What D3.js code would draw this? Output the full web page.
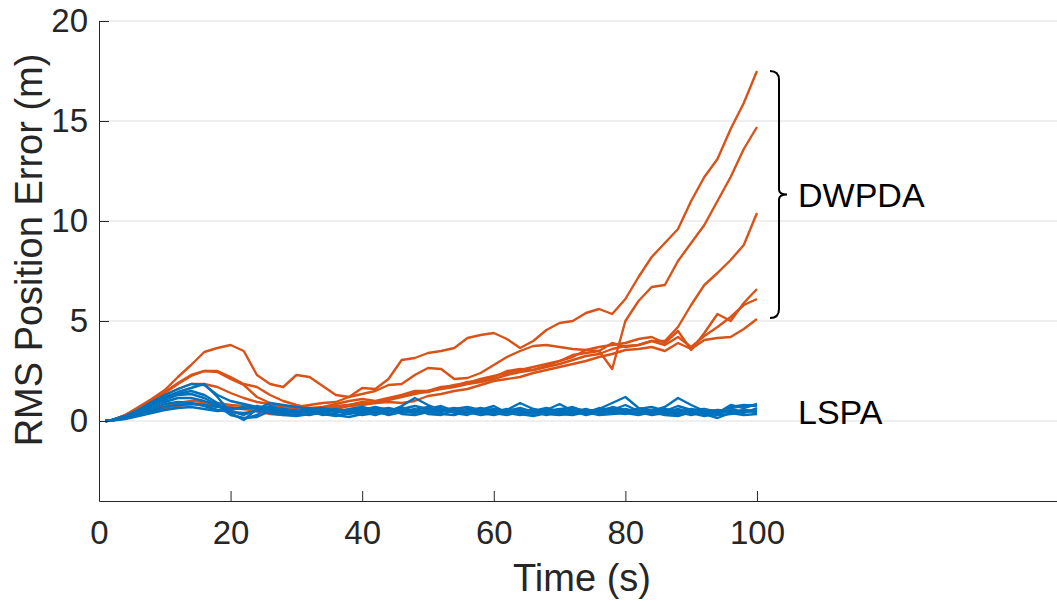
<!DOCTYPE html>
<html>
<head>
<meta charset="utf-8">
<script src="https://cdn.jsdelivr.net/npm/d3@7"></script>
<style>
  html, body { margin: 0; padding: 0; background: #fff; }
  svg { display: block; font-family: "Liberation Sans", Arial, Helvetica, sans-serif; }
</style>
</head>
<body>
<svg id="chart" width="1057" height="602"></svg>
<script>
// ---------- data ----------
const times = [1,2,4,6,8,10,12,14,16,18,20,22,24,26,28,30,32,34,36,38,40,42,44,46,48,50,52,54,56,58,60,62,64,66,68,70,72,74,76,78,80,82,84,86,88,90,92,94,96,98,100];

// DWPDA runs (orange)
const dwpda1 = [0,0.05,0.3,0.7,1.1,1.55,2.2,2.8,3.45,3.65,3.8,3.5,2.3,1.85,1.7,2.3,2.2,1.75,1.3,1.2,1.65,1.6,2.1,3.05,3.15,3.4,3.5,3.65,4.15,4.3,4.4,4.1,3.65,4.0,4.55,4.9,5.0,5.4,5.6,5.35,6.1,7.2,8.2,8.9,9.6,11.0,12.2,13.1,14.6,15.9,17.5];
const dwpda2 = [0,0.05,0.3,0.65,1.05,1.45,1.9,2.3,2.5,2.45,2.1,1.8,1.2,0.9,0.7,0.7,0.8,0.9,0.95,1.2,1.35,1.5,1.8,1.85,2.3,2.65,2.6,2.1,2.15,2.4,2.8,3.2,3.5,3.75,3.8,3.7,3.6,3.55,3.5,2.6,5.0,6.0,6.7,6.8,8.0,8.9,9.8,11.0,12.2,13.6,14.7];
const dwpda3 = [0,0.05,0.3,0.65,1.0,1.4,1.85,2.25,2.5,2.5,2.2,1.85,1.7,1.3,1.0,0.8,0.65,0.7,0.85,1.0,1.1,1.0,1.15,1.3,1.5,1.5,1.7,1.75,1.95,2.0,2.2,2.5,2.6,2.55,2.75,3.0,3.3,3.4,3.5,3.9,3.7,3.8,4.0,4.0,4.7,5.8,6.8,7.4,8.05,8.8,10.4];
const dwpda4 = [0,0.05,0.25,0.6,0.95,1.3,1.6,1.85,1.85,1.7,1.4,1.15,0.95,0.85,0.7,0.6,0.45,0.65,0.75,0.8,0.85,0.95,1.1,1.25,1.4,1.45,1.65,1.8,1.9,2.1,2.25,2.4,2.55,2.7,2.85,3.0,3.2,3.55,3.7,3.8,3.9,4.1,4.2,3.9,4.5,3.55,4.4,5.35,5.0,5.9,6.6];
const dwpda5 = [0,0.03,0.15,0.35,0.55,0.75,0.9,1.0,0.95,0.9,0.8,0.75,0.7,0.6,0.55,0.5,0.55,0.6,0.7,0.8,0.95,0.9,1.05,1.2,1.35,1.5,1.6,1.7,1.85,1.95,2.1,2.3,2.45,2.55,2.7,2.85,3.05,3.25,3.35,3.6,3.75,3.8,4.0,3.8,4.2,3.7,4.25,4.7,5.2,5.8,6.1];
const dwpda6 = [0,0.03,0.12,0.3,0.45,0.6,0.75,0.85,0.85,0.8,0.7,0.6,0.5,0.35,0.3,0.4,0.5,0.55,0.6,0.75,0.8,0.9,0.95,0.9,1.0,1.25,1.35,1.5,1.6,1.8,2.0,2.1,2.2,2.4,2.55,2.7,2.85,3.0,3.2,3.35,3.55,3.6,3.7,3.5,3.9,3.6,4.05,4.15,4.2,4.6,5.1];

// LSPA runs (blue)
const lspa1 = [0,0.05,0.25,0.55,0.95,1.3,1.6,1.85,1.8,1.3,1.0,0.85,0.7,0.55,0.6,0.5,0.4,0.55,0.5,0.35,0.5,0.6,0.45,0.75,1.15,0.8,0.55,0.45,0.6,0.5,0.35,0.55,0.9,0.6,0.4,0.55,0.7,0.45,0.6,0.9,1.2,0.65,0.5,0.7,1.15,0.8,0.5,0.35,0.7,0.8,0.75];
const lspa2 = [0,0.05,0.25,0.55,0.9,1.2,1.45,1.65,1.85,1.2,0.4,0.05,0.6,0.9,0.8,0.7,0.6,0.65,0.5,0.55,0.45,0.3,0.5,0.7,0.45,0.5,0.65,0.4,0.3,0.55,0.75,0.4,0.3,0.45,0.55,0.85,0.5,0.3,0.45,0.7,0.55,0.35,0.5,0.45,0.6,0.4,0.25,0.4,0.8,0.65,0.85];
const lspa3 = [0,0.04,0.2,0.5,0.85,1.15,1.35,1.5,1.3,0.9,0.35,0.1,0.3,0.7,0.6,0.45,0.5,0.3,0.4,0.55,0.6,0.45,0.35,0.5,0.4,0.6,0.75,0.5,0.35,0.45,0.6,0.5,0.65,0.45,0.3,0.5,0.45,0.6,0.4,0.55,0.8,0.5,0.35,0.55,0.45,0.3,0.45,0.3,0.6,0.45,0.55];
const lspa4 = [0,0.04,0.2,0.45,0.8,1.05,1.3,1.35,1.15,0.8,0.3,0.15,0.2,0.5,0.45,0.35,0.3,0.45,0.3,0.2,0.35,0.5,0.3,0.45,0.6,0.35,0.3,0.55,0.45,0.3,0.4,0.3,0.45,0.55,0.35,0.3,0.4,0.55,0.35,0.4,0.6,0.45,0.3,0.4,0.35,0.5,0.35,0.15,0.4,0.3,0.35];
const lspa5 = [0,0.03,0.2,0.4,0.7,0.95,1.15,1.15,1.0,0.75,0.5,0.3,0.55,0.75,0.55,0.5,0.65,0.5,0.6,0.45,0.55,0.7,0.55,0.6,0.75,0.6,0.45,0.6,0.7,0.55,0.45,0.6,0.5,0.35,0.5,0.6,0.65,0.5,0.55,0.65,0.5,0.6,0.7,0.5,0.75,0.55,0.6,0.45,0.65,0.75,0.8];
const lspa6 = [0,0.03,0.15,0.35,0.6,0.85,0.95,0.9,0.75,0.55,0.45,0.4,0.5,0.45,0.35,0.4,0.5,0.35,0.25,0.4,0.5,0.35,0.5,0.65,0.5,0.4,0.55,0.65,0.5,0.65,0.5,0.35,0.4,0.6,0.45,0.4,0.55,0.35,0.5,0.45,0.35,0.55,0.45,0.6,0.5,0.35,0.55,0.5,0.45,0.55,0.5];
const lspa7 = [0,0.03,0.12,0.3,0.5,0.7,0.8,0.85,0.8,0.7,0.65,0.6,0.75,0.6,0.5,0.55,0.45,0.6,0.45,0.6,0.7,0.55,0.65,0.5,0.55,0.7,0.5,0.55,0.4,0.6,0.55,0.45,0.55,0.5,0.65,0.45,0.5,0.4,0.65,0.5,0.45,0.4,0.55,0.35,0.45,0.6,0.45,0.55,0.5,0.4,0.65];
const lspa8 = [0,0.02,0.1,0.25,0.4,0.55,0.65,0.7,0.6,0.5,0.55,0.7,0.6,0.4,0.3,0.25,0.35,0.4,0.55,0.45,0.3,0.4,0.6,0.35,0.3,0.45,0.35,0.3,0.5,0.4,0.3,0.45,0.35,0.25,0.4,0.35,0.3,0.45,0.3,0.35,0.4,0.3,0.45,0.3,0.25,0.45,0.4,0.3,0.35,0.5,0.45];

const dwpdaSeries = [dwpda1, dwpda2, dwpda3, dwpda4, dwpda5, dwpda6];
const lspaSeries = [lspa1, lspa2, lspa3, lspa4, lspa5, lspa6, lspa7, lspa8];

const xTicks = [0, 20, 40, 60, 80, 100];
const yTicks = [0, 5, 10, 15, 20];
const xLabel = "Time (s)";
const yLabel = "RMS Position Error (m)";
const groupLabels = ["DWPDA", "LSPA"];

// ---------- drawing ----------
const svg = d3.select("#chart");
const W = 1057, H = 602;
const x = d3.scaleLinear().domain([0, 145.6]).range([99, W]);
const y = d3.scaleLinear().domain([-4, 20]).range([501, 21]);

const axisColor = "#262626";

// grid
svg.append("g").selectAll("line").data(yTicks).join("line")
  .attr("x1", x(0)).attr("x2", W)
  .attr("y1", d => y(d)).attr("y2", d => y(d))
  .attr("stroke", "#dfdfdf").attr("stroke-width", 1);

const line = d3.line().x((d, i) => x(times[i])).y(d => y(d));

const blue = "#0072BD", orange = "#D95319";
svg.append("g").selectAll("path").data(dwpdaSeries).join("path")
  .attr("d", line).attr("fill", "none").attr("stroke", orange)
  .attr("stroke-width", 2.4).attr("stroke-linejoin", "round");
svg.append("g").selectAll("path").data(lspaSeries).join("path")
  .attr("d", line).attr("fill", "none").attr("stroke", blue)
  .attr("stroke-width", 2.4).attr("stroke-linejoin", "round");

// axes
const fsTick = 33;
const xAxis = d3.axisBottom(x).tickValues(xTicks).tickFormat(d3.format("d"))
  .tickSizeInner(-10).tickSizeOuter(0).tickPadding(20);
const gx = svg.append("g").attr("transform", `translate(0,${y(-4)})`).call(xAxis);
gx.select(".domain").attr("stroke", axisColor).attr("stroke-width", 1);
gx.selectAll(".tick line").attr("stroke", axisColor);
gx.selectAll(".tick text").attr("fill", axisColor).style("font-size", fsTick + "px")
  .style("font-family", "Liberation Sans, Arial, sans-serif");

const yAxis = d3.axisLeft(y).tickValues(yTicks).tickFormat(d3.format("d"))
  .tickSizeInner(-10).tickSizeOuter(0).tickPadding(11);
const gy = svg.append("g").attr("transform", `translate(${x(0)},0)`).call(yAxis);
gy.select(".domain").attr("stroke", axisColor).attr("stroke-width", 1);
gy.selectAll(".tick line").attr("stroke", axisColor);
gy.selectAll(".tick text").attr("fill", axisColor).style("font-size", fsTick + "px")
  .style("font-family", "Liberation Sans, Arial, sans-serif");

// axis labels
svg.append("text").attr("x", 582).attr("y", 591)
  .attr("text-anchor", "middle").attr("fill", axisColor)
  .style("font-size", "38px").text(xLabel);
svg.append("text").attr("transform", `translate(42,250) rotate(-90)`)
  .attr("text-anchor", "middle").attr("fill", axisColor)
  .style("font-size", "38px").text(yLabel);

// brace for DWPDA
const bTop = y(17.5), bBot = y(5.15), bMid = (bTop + bBot) / 2;
const bx = 770, bx2 = 779, tip = 787;
const brace = `M${bx},${bTop} Q${bx2},${bTop} ${bx2},${bTop + 9} L${bx2},${bMid - 5} Q${bx2},${bMid} ${tip},${bMid} Q${bx2},${bMid} ${bx2},${bMid + 5} L${bx2},${bBot - 9} Q${bx2},${bBot} ${bx},${bBot}`;
svg.append("path").attr("d", brace).attr("fill", "none").attr("stroke", "#000").attr("stroke-width", 2);

svg.append("text").attr("x", 798).attr("y", bMid + 12).attr("fill", "#000")
  .style("font-size", "34px").text(groupLabels[0]);
svg.append("text").attr("x", 798).attr("y", y(0.45) + 12).attr("fill", "#000")
  .style("font-size", "34px").text(groupLabels[1]);
</script>
</body>
</html>
